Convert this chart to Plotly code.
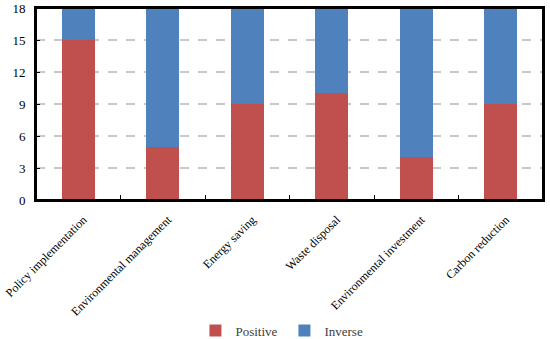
import plotly.graph_objects as go

categories = ["Policy implementation", "Environmental management", "Energy saving",
              "Waste disposal", "Environmental investment", "Carbon reduction"]
positive = [15, 5, 9, 10, 4, 9]
inverse = [3, 13, 9, 8, 14, 9]
y_ticks = [0, 3, 6, 9, 12, 15, 18]

fig = go.Figure()
fig.add_trace(go.Bar(x=categories, y=positive, name="Positive", marker_color="#C0504D",
                     marker_line_width=0, width=0.39))
fig.add_trace(go.Bar(x=categories, y=inverse, name="Inverse", marker_color="#4F81BD",
                     marker_line_width=0, width=0.39))

font = dict(family="Liberation Serif", size=13, color="#000000")
xfont = dict(family="Liberation Serif", size=12, color="#000000")
fig.update_layout(
    barmode="stack",
    width=550, height=339,
    margin=dict(l=36, r=7, t=8, b=139, autoexpand=False),
    paper_bgcolor="white", plot_bgcolor="white",
    font=font,
    showlegend=True,
    legend=dict(orientation="h", x=0.49, xanchor="center", y=-0.68, yanchor="middle",
                font=dict(family="Liberation Serif", size=13, color="#404040"),
                itemwidth=30, traceorder="normal", entrywidth=44,
                entrywidthmode="pixels"),
    xaxis=dict(tickangle=-45, showline=True, linecolor="black", linewidth=2, mirror=True,
               ticks="inside", tickson="boundaries", ticklen=5, tickcolor="black", tickwidth=1,
               showgrid=False, tickfont=xfont, automargin=False,
               ticklabelstandoff=6, ticklabelshift=5),
    yaxis=dict(range=[0, 18], tickvals=y_ticks, showline=True, linecolor="black", linewidth=2,
               mirror=True, ticks="inside", ticklen=4, tickcolor="black", tickwidth=1,
               showgrid=True, gridcolor="#C8C8C8", griddash="dash",
               gridwidth=1.5, zeroline=False, tickfont=font, automargin=False, ticklabelstandoff=6),
    shapes=[dict(type="rect", xref="paper", yref="paper", x0=0, x1=1, y0=0, y1=1,
                 line=dict(color="black", width=2), layer="above")],
)
fig.write_html("out.html", post_script="document.body.style.margin='0';",
               config={"displayModeBar": False})
